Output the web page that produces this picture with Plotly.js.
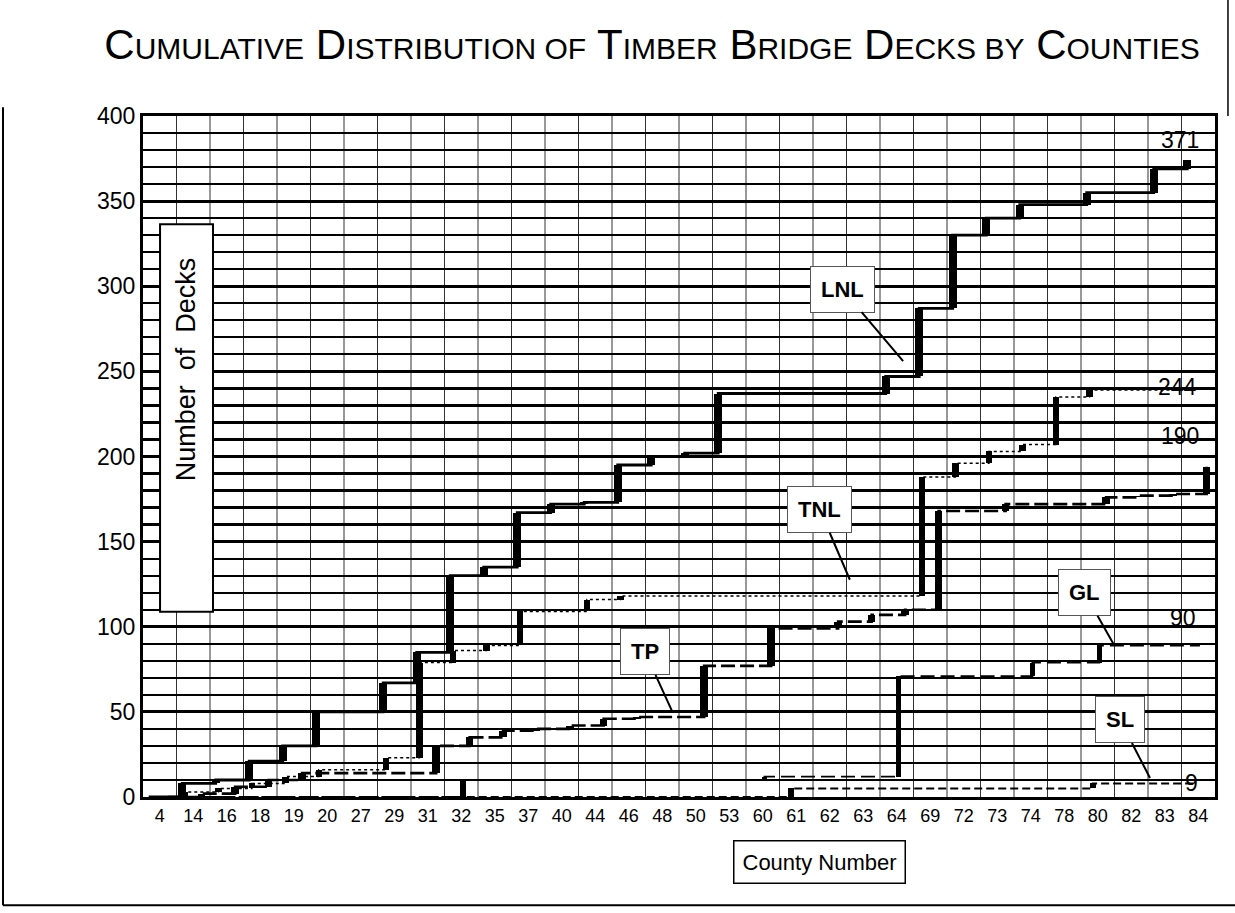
<!DOCTYPE html>
<html><head><meta charset="utf-8">
<script src="https://cdn.plot.ly/plotly-3.0.1.min.js"></script>
<style>html,body{margin:0;padding:0;background:#fff}</style>
</head><body>
<div id="chart" style="width:1235px;height:913px"></div>
<script>
// County numbers (categories)
const counties = ['4','14','16','18','19','20','27','29','31','32','35','37','40','44','46','48','50','53','60','61','62','63','64','69','72','73','74','78','80','82','83','84'];
// Cumulative number of decks per deck type
const LNL = [0,8,10,21,30,50,50,67,85,130,135,167,172,173,195,200,202,237,237,237,237,237,247,287,330,340,348,348,355,355,369,374];
const TNL = [0,3,5,8,12,16,16,23,79,86,89,109,109,116,118,118,118,118,118,118,118,118,118,188,196,203,207,235,239,239,239,240];
const TP  = [0,2,6,10,14,14,14,14,30,35,39,40,42,46,47,47,77,77,99,99,103,107,110,168,168,172,172,172,176,177,178,194];
const GL  = [0,0,0,0,0,0,0,0,0,10,10,10,10,10,10,10,10,10,12,12,12,12,71,71,71,71,79,79,89,89,89,89];
const SL  = [0,0,0,0,0,0,0,0,0,0,0,0,0,0,0,0,0,0,0,5,5,5,5,5,5,5,5,5,8,8,8,8];
// End labels
const endLabels = ['371','244','190','90','9'];

const idx = counties.map((c,i)=>i);
const FONT = 'Arial, "Liberation Sans", sans-serif';

function stepTraces(vals, pos, barW, line) {
  const xc = idx.map(i => i - 0.5 + pos);
  const inc = vals.map((v,i)=> i===0 ? v : v - vals[i-1]);
  const base = vals.map((v,i)=> i===0 ? 0 : vals[i-1]);
  return [
    {type:'scatter', mode:'lines', x:xc, y:vals, line:Object.assign({shape:'hv', color:'#000'}, line), hoverinfo:'skip', showlegend:false},
    {type:'bar', x:idx, y:inc, base:base, width:barW, offset:pos-0.5-barW/2, marker:{color:'#000', line:{width:0}}, showlegend:false, hoverinfo:'skip'}
  ];
}

const traces = [].concat(
  stepTraces(SL, 0.35, 0.17, {width:2, dash:'8px,4px'}),
  stepTraces(GL, 0.55, 0.17, {width:1.8, dash:'14px,6px'}),
  stepTraces(TP, 0.75, 0.23, {width:2.6, dash:'14px,5px'}),
  stepTraces(TNL, 0.25, 0.2, {width:1.5, dash:'dot'}),
  stepTraces(LNL, 0.17, 0.24, {width:2.8})
);

// vertical grid lines at category boundaries
const shapes = idx.slice(0, idx.length-1).map(i => ({
  type:'line', xref:'x', yref:'paper', x0:i+0.5, x1:i+0.5, y0:0, y1:1,
  line:{color:'#333', width:1}, layer:'below'
}));
// Y-title box
shapes.push({type:'rect', xref:'paper', yref:'paper', x0:0.0159, x1:0.0653, y0:0.272, y1:0.841,
  fillcolor:'#fff', line:{color:'#000', width:2}, layer:'above'});
// outer frame (scan border)
shapes.push({type:'line', xref:'paper', yref:'paper', x0:-0.1306, x1:-0.1306, y0:1.013, y1:-0.159, line:{color:'#000', width:2}});
shapes.push({type:'line', xref:'paper', yref:'paper', x0:-0.1306, x1:1.02, y0:-0.159, y1:-0.159, line:{color:'#000', width:2}});
shapes.push({type:'line', xref:'paper', yref:'paper', x0:1.0121, x1:1.0121, y0:1.172, y1:1.0, line:{color:'#000', width:1.5}});

const S = 'font-size:30px';
const titleText = 'C<span style="'+S+'">UMULATIVE</span> D<span style="'+S+'">ISTRIBUTION OF</span> T<span style="'+S+'">IMBER</span> B<span style="'+S+'">RIDGE</span> D<span style="'+S+'">ECKS BY</span> C<span style="'+S+'">OUNTIES</span>';

function boxLabel(text, x, y, ax, ay) {
  return {text:'<b>'+text+'</b>', x:x, y:y, xref:'x', yref:'y', ax:ax, ay:ay, showarrow:true,
    arrowhead:0, arrowwidth:2, arrowcolor:'#000', standoff:0,
    bgcolor:'#fff', bordercolor:'#555', borderwidth:1, borderpad:10,
    font:{family:FONT, size:22, color:'#000'}};
}
function endLabel(text, x, y) {
  return {text:text, x:x, y:y, xref:'x', yref:'y', showarrow:false, xanchor:'center', yanchor:'middle',
    font:{family:FONT, size:23, color:'#000'}};
}

const annotations = [
  boxLabel('LNL', 22.19, 256, -61, -72),
  boxLabel('TNL', 20.6, 127.6, -30, -70),
  boxLabel('TP', 15.29, 50.6, -27, -59),
  boxLabel('GL', 28.5, 88.8, -30, -53),
  boxLabel('SL', 29.56, 11.2, -30, -58),
  endLabel(endLabels[0], 30.45, 386),
  endLabel(endLabels[1], 30.37, 240.6),
  endLabel(endLabels[2], 30.45, 211.8),
  endLabel(endLabels[3], 30.54, 105),
  endLabel(endLabels[4], 30.8, 8.2),
  {text:'Number  of  Decks', xref:'paper', yref:'paper', x:0.0401, y:0.628, textangle:-90, showarrow:false,
    xanchor:'center', yanchor:'middle', font:{family:FONT, size:27, color:'#000'}},
  {text:'County Number', xref:'paper', yref:'paper', x:0.6315, y:-0.0956, showarrow:false,
    xanchor:'center', yanchor:'middle', bgcolor:'#fff', bordercolor:'#000', borderwidth:1.5, borderpad:8,
    font:{family:FONT, size:22, color:'#000'}}
];

const layout = {
  width:1235, height:913,
  margin:{l:143, r:20, t:116, b:116},
  paper_bgcolor:'#fff', plot_bgcolor:'#fff',
  font:{family:FONT, color:'#000'},
  title:{text:titleText, font:{family:FONT, size:42, color:'#000'}, xref:'container', yref:'container', x:0.528, y:0.952, xanchor:'center', yanchor:'middle'},
  barmode:'overlay', bargap:0,
  showlegend:false,
  xaxis:{range:[-0.5, 31.5], tickmode:'array', tickvals:idx, ticktext:counties, showgrid:false, zeroline:false,
    showline:true, mirror:true, linewidth:3, linecolor:'#000', ticks:'', tickfont:{family:FONT, size:18, color:'#000'}},
  yaxis:{range:[0, 400], dtick:50, tick0:0, showgrid:true, gridcolor:'#000', gridwidth:3.2, zeroline:false,
    minor:{dtick:10, tick0:0, showgrid:true, gridcolor:'#000', gridwidth:2.2, ticks:''},
    showline:true, mirror:true, linewidth:3, linecolor:'#000', ticks:'', tickfont:{family:FONT, size:23, color:'#000'}},
  shapes:shapes,
  annotations:annotations
};

Plotly.newPlot('chart', traces, layout, {displayModeBar:false, staticPlot:true});
</script>
</body></html>
